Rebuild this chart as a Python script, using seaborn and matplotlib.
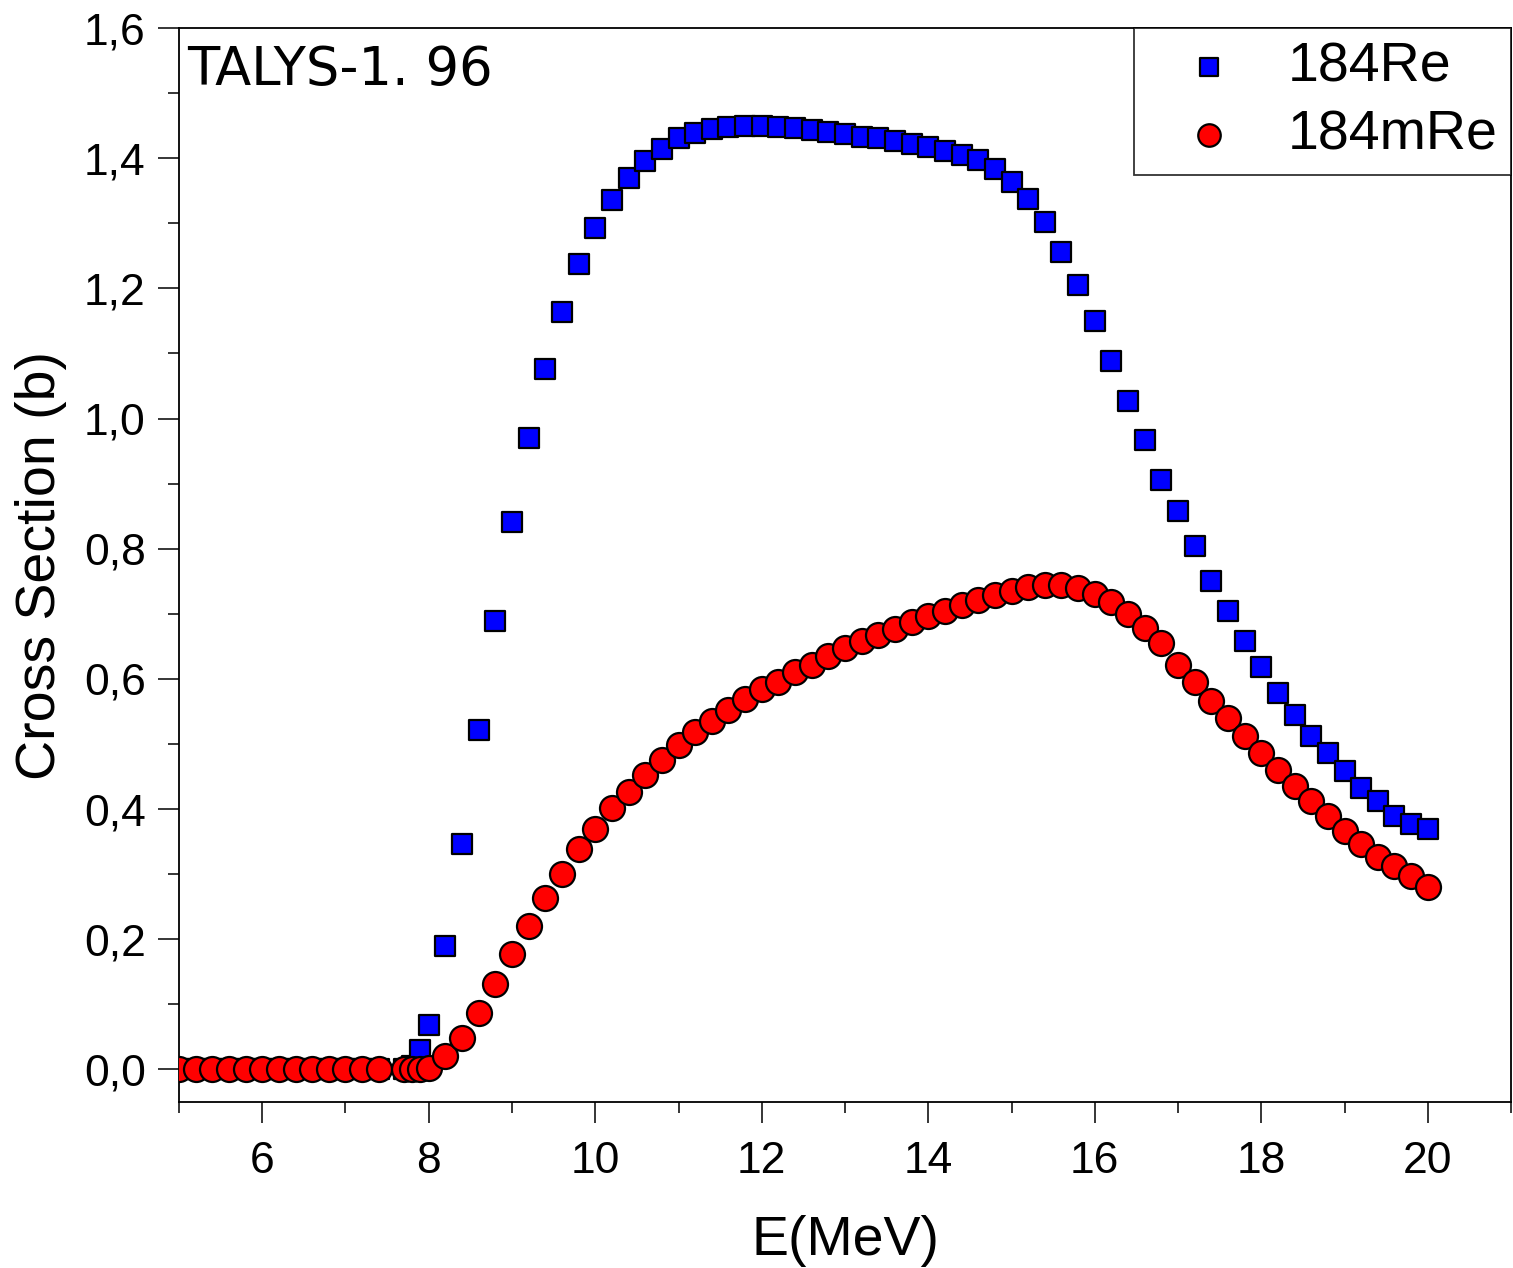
import numpy as np
import pandas as pd
import matplotlib
matplotlib.use("Agg")
import matplotlib.pyplot as plt
import seaborn as sns
from matplotlib.ticker import MultipleLocator, FuncFormatter

energy = [5.0, 5.2, 5.4, 5.6, 5.8, 6.0, 6.2, 6.4, 6.6, 6.8, 7.0, 7.2, 7.4,
          7.7, 7.8, 7.9, 8.0,
          8.2, 8.4, 8.6, 8.8, 9.0, 9.2, 9.4, 9.6, 9.8, 10.0,
          10.2, 10.4, 10.6, 10.8, 11.0, 11.2, 11.4, 11.6, 11.8, 12.0,
          12.2, 12.4, 12.6, 12.8, 13.0, 13.2, 13.4, 13.6, 13.8, 14.0,
          14.2, 14.4, 14.6, 14.8, 15.0, 15.2, 15.4, 15.6, 15.8, 16.0,
          16.2, 16.4, 16.6, 16.8, 17.0, 17.2, 17.4, 17.6, 17.8, 18.0,
          18.2, 18.4, 18.6, 18.8, 19.0, 19.2, 19.4, 19.6, 19.8, 20.0]

re184 = [0.0] * 13 + [0.0, 0.005, 0.03, 0.068] + [
    0.189, 0.347, 0.521, 0.689, 0.841, 0.970, 1.076, 1.164, 1.237, 1.293,
    1.336, 1.370, 1.396, 1.414, 1.431, 1.439, 1.445, 1.448, 1.449, 1.449,
    1.448, 1.446, 1.443, 1.440, 1.437, 1.433, 1.431, 1.426, 1.422, 1.417,
    1.411, 1.405, 1.397, 1.383, 1.363, 1.337, 1.302, 1.256, 1.205, 1.150,
    1.088, 1.027, 0.967, 0.905, 0.858, 0.804, 0.750, 0.704, 0.659, 0.618,
    0.579, 0.544, 0.513, 0.486, 0.458, 0.433, 0.412, 0.390, 0.377, 0.370]

re184m = [0.0] * 13 + [0.0, 0.0, 0.0, 0.003] + [
    0.020, 0.049, 0.086, 0.132, 0.178, 0.221, 0.264, 0.301, 0.338, 0.370,
    0.401, 0.427, 0.453, 0.476, 0.498, 0.518, 0.536, 0.553, 0.569, 0.584,
    0.596, 0.610, 0.622, 0.635, 0.647, 0.658, 0.667, 0.676, 0.687, 0.696,
    0.705, 0.713, 0.721, 0.729, 0.735, 0.741, 0.744, 0.744, 0.739, 0.730,
    0.718, 0.699, 0.678, 0.655, 0.622, 0.595, 0.566, 0.540, 0.512, 0.486,
    0.460, 0.435, 0.412, 0.389, 0.367, 0.347, 0.327, 0.312, 0.297, 0.280]

series_names = ["184Re", "184mRe"]

sns.set_style("ticks")
plt.rcParams['font.family'] = ['Liberation Sans', 'DejaVu Sans']
plt.rcParams['text.color'] = 'black'
plt.rcParams['axes.labelcolor'] = 'black'
plt.rcParams['xtick.color'] = 'black'
plt.rcParams['ytick.color'] = 'black'

fig = plt.figure(figsize=(15.13, 12.68), dpi=100)
ax = fig.add_axes([0.1183, 0.1309, 0.8804, 0.8470])

df1 = pd.DataFrame({"E": energy, "sigma": re184})
df2 = pd.DataFrame({"E": energy, "sigma": re184m})

sns.scatterplot(data=df1, x="E", y="sigma", ax=ax, marker="s", s=15**2,
                color="#0000FF", edgecolor="black", linewidth=1.6,
                label=series_names[0], zorder=3)
sns.scatterplot(data=df2, x="E", y="sigma", ax=ax, marker="o", s=18**2,
                color="#FF0000", edgecolor="black", linewidth=1.6,
                label=series_names[1], zorder=4)

ax.set_xlim(5, 21)
ax.set_ylim(-0.05, 1.6)
ax.xaxis.set_major_locator(MultipleLocator(2))
ax.xaxis.set_minor_locator(MultipleLocator(1))
ax.yaxis.set_major_locator(MultipleLocator(0.2))
ax.yaxis.set_minor_locator(MultipleLocator(0.1))
ax.yaxis.set_major_formatter(FuncFormatter(lambda v, p: f"{v:.1f}".replace(".", ",")))
ax.xaxis.set_major_formatter(FuncFormatter(lambda v, p: f"{int(round(v))}"))

for sp in ax.spines.values():
    sp.set_linewidth(1.3)
    sp.set_color("black")

ax.tick_params(axis="both", which="major", direction="out", length=15, width=1.1,
               labelsize=32, pad=9, color="black", labelcolor="black")
ax.tick_params(axis="x", which="major", pad=13)
ax.tick_params(axis="both", which="minor", direction="out", length=8, width=1.1,
               color="black")

ax.set_xlabel("E(MeV)", fontsize=40, labelpad=24, color="black")
ax.set_ylabel("Cross Section (b)", fontsize=40, labelpad=12, color="black")

ax.text(0.006, 0.985, "TALYS-1. 96", transform=ax.transAxes, fontsize=38,
        family="DejaVu Sans", va="top", ha="left", color="black")

leg = ax.legend(loc="upper right", fontsize=40, frameon=True, fancybox=False,
                edgecolor="black", borderaxespad=0.0, handletextpad=0.3,
                borderpad=0.25, labelspacing=0.28, markerscale=0.9,
                handlelength=2.2)
leg.get_frame().set_linewidth(1.3)
for t in leg.get_texts():
    t.set_color("black")

fig.savefig("out.png", dpi=100)
